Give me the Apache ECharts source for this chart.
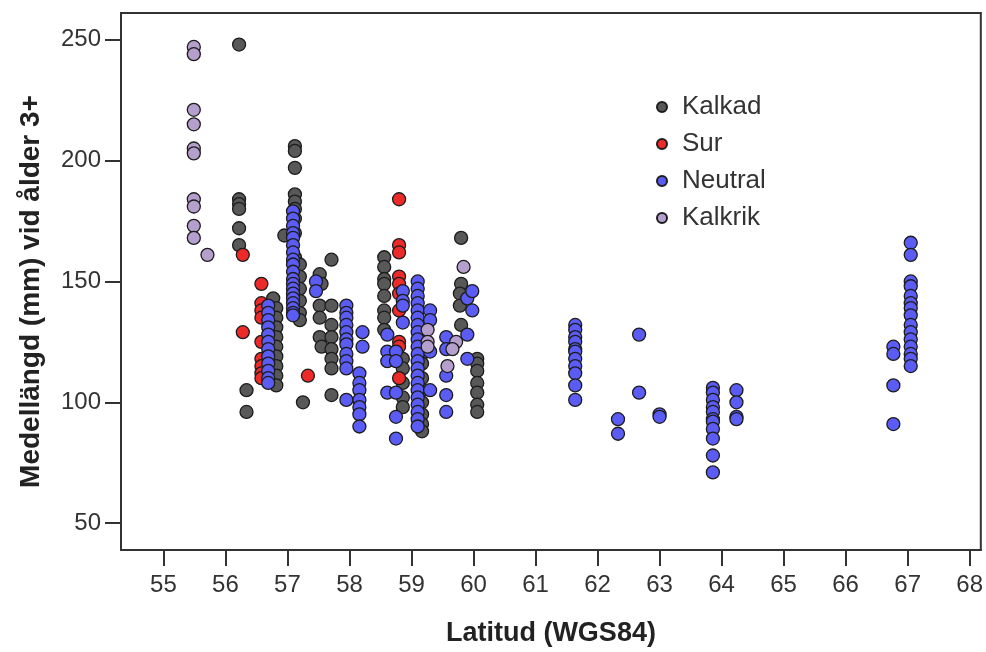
<!DOCTYPE html>
<html>
<head>
<meta charset="utf-8">
<script src="https://cdn.jsdelivr.net/npm/echarts@6.0.0/dist/echarts.min.js"></script>
<style>
    html, body { margin: 0; padding: 0; background: #fff; }
    #chart_div { width: 986px; height: 652px; }
</style>
</head>
<body>
<div id="chart_div"></div>
<script>
    // tick labels
    const latTicks = [55, 56, 57, 58, 59, 60, 61, 62, 63, 64, 65, 66, 67, 68];
    const lenTicks = [50, 100, 150, 200, 250];

    // [latitud, medellängd]
    const kalkad = [
        [56.22,248],[56.22,184],[56.22,182],[56.22,180],[56.22,172],[56.22,165],
        [56.34,105],[56.34,96],
        [56.77,143],[56.82,139],[56.82,135],[56.82,131],[56.82,127],[56.82,123],[56.82,119],[56.82,115],[56.82,111],[56.82,107],
        [56.95,169],
        [57.12,206],[57.12,204],[57.12,197],[57.12,186],[57.12,183],[57.12,180],[57.12,176],[57.12,170],[57.12,160],[57.12,150],[57.12,140],
        [57.2,157],[57.2,152],[57.2,147],[57.2,142],[57.2,137],[57.2,134],
        [57.25,100],[57.71,159],
        [57.52,153],[57.55,149],[57.52,140],[57.52,135],[57.52,127],[57.55,123],
        [57.71,140],[57.71,132],[57.71,127],[57.71,122],[57.71,118],[57.71,114],[57.71,103],
        [58.56,160],[58.56,156],[58.56,151],[58.56,149],[58.56,144],[58.56,138],[58.56,135],[58.56,130],
        [58.86,118],[58.86,114],[58.86,108],[58.86,102],[58.86,98],
        [59.17,130],[59.17,125],[59.17,120],[59.17,116],[59.17,110],[59.17,105],[59.17,100],[59.17,95],[59.17,91],[59.17,88],
        [59.8,168],[59.8,149],[59.78,145],[59.78,140],[59.8,132],
        [60.06,118],[60.06,116],[60.06,113],[60.06,108],[60.06,104],[60.06,99],[60.06,96]
    ];
    const sur = [
        [56.28,161],[56.28,129],
        [56.58,149],[56.58,141],[56.58,138],[56.58,135],[56.58,125],[56.58,118],[56.58,115],[56.58,112],[56.58,110],
        [57.33,111],
        [58.8,184],[58.8,165],[58.8,162],[58.8,152],[58.8,149],[58.8,145],[58.8,138],[58.8,125],[58.8,123],[58.8,110]
    ];
    const neutral = [
        [56.69,140],[56.69,137],[56.69,134],[56.69,131],[56.69,128],[56.69,125],[56.69,122],[56.69,119],[56.69,116],[56.69,113],[56.69,110],[56.69,108],
        [57.09,179],[57.09,176],[57.09,173],[57.09,170],[57.09,168],[57.09,165],[57.09,162],[57.09,159],[57.09,157],[57.09,154],
        [57.09,151],[57.09,149],[57.09,147],[57.09,145],[57.09,143],[57.09,141],[57.09,139],[57.09,137],[57.09,136],
        [57.46,150],[57.46,146],
        [57.95,140],[57.95,137],[57.95,135],[57.95,132],[57.95,129],[57.95,126],[57.95,124],[57.95,120],[57.95,117],[57.95,114],[57.95,101],
        [58.16,112],[58.16,108],[58.16,105],[58.16,101],[58.16,98],[58.16,95],[58.16,90],
        [58.21,129],[58.21,123],
        [58.61,128],[58.61,121],[58.61,117],[58.61,104],
        [58.75,121],[58.75,117],[58.75,104],[58.75,94],[58.75,85],
        [58.86,146],[58.86,142],[58.86,140],[58.86,133],
        [59.1,150],[59.1,147],[59.1,144],[59.1,141],[59.1,138],[59.1,135],[59.1,132],[59.1,129],[59.1,126],[59.1,123],[59.1,120],
        [59.1,117],[59.1,114],[59.1,111],[59.1,108],[59.1,105],[59.1,102],[59.1,99],[59.1,96],[59.1,93],[59.1,90],
        [59.3,138],[59.3,134],[59.3,121],[59.3,105],
        [59.56,127],[59.56,122],[59.56,111],[59.56,103],[59.56,96],
        [59.9,143],[59.9,128],[59.9,118],[59.98,146],[59.98,138],
        [61.64,132],[61.64,130],[61.64,127],[61.64,125],[61.64,122],[61.64,121],[61.64,118],[61.64,115],[61.64,112],[61.64,107],[61.64,101],
        [62.67,128],[62.67,104],[62.33,93],[62.33,87],[63.0,95],[63.0,94],
        [63.86,106],[63.86,104],[63.86,101],[63.86,98],[63.86,96],[63.86,93],[63.86,92],[63.86,89],[63.86,85],[63.86,78],[63.86,71],
        [64.24,105],[64.24,100],[64.24,94],[64.24,93],
        [66.77,123],[66.77,120],[66.77,107],[66.77,91],
        [67.05,166],[67.05,161],[67.05,150],[67.05,148],[67.05,144],[67.05,141],[67.05,139],[67.05,136],
        [67.05,132],[67.05,129],[67.05,126],[67.05,123],[67.05,120],[67.05,118],[67.05,115]
    ];
    const kalkrik = [
        [55.49,247],[55.49,244],[55.49,221],[55.49,215],[55.49,205],[55.49,203],[55.49,184],[55.49,181],[55.49,173],[55.49,168],
        [55.71,161],
        [59.26,130],[59.26,125],[59.26,123],[59.72,125],[59.66,122],[59.58,115],[59.84,156]
    ];

    const FONT = "'Liberation Sans', Arial, sans-serif";

    function dots(name, data, color){
        return {
            name: name,
            type: 'scatter',
            data: data,
            symbol: 'circle',
            symbolSize: 13,
            itemStyle: {
                color: color,
                borderColor: '#1c1c1c',
                borderWidth: 1.3,
                opacity: 1
            }
        };
    }

    let myChart = echarts.init(document.getElementById('chart_div'));
    myChart.setOption({
        animation: false,
        backgroundColor: '#fff',
        grid: {
            left: 121, top: 13, right: 3, bottom: 102,
            show: true,
            borderColor: '#333',
            borderWidth: 2
        },
        legend: {
            orient: 'vertical',
            left: 651,
            top: 87,
            itemWidth: 10,
            itemHeight: 10,
            itemGap: 7,
            icon: 'circle',
            textStyle: {
                fontFamily: FONT,
                fontSize: 26,
                lineHeight: 30,
                color: '#333',
                padding: [0, 0, 0, 10]
            },
            data: ['Kalkad', 'Sur', 'Neutral', 'Kalkrik']
        },
        xAxis: {
            type: 'value',
            min: 54.316,
            max: 68.18,
            name: 'Latitud (WGS84)',
            nameLocation: 'middle',
            nameGap: 70,
            nameTextStyle: { fontFamily: FONT, fontSize: 27, fontWeight: 'bold', color: '#222' },
            axisLine: { lineStyle: { color: '#333', width: 2 } },
            axisTick: { customValues: latTicks, length: 16, lineStyle: { color: '#333', width: 2 } },
            axisLabel: { customValues: latTicks, margin: 23, fontFamily: FONT, fontSize: 24, color: '#333' },
            splitLine: { show: false }
        },
        yAxis: {
            type: 'value',
            min: 38.9,
            max: 261.05,
            name: 'Medellängd (mm) vid ålder 3+',
            nameLocation: 'middle',
            nameGap: 76,
            nameTextStyle: { fontFamily: FONT, fontSize: 28, fontWeight: 'bold', color: '#222', padding: [0, 20, 0, 0] },
            axisLine: { show: true, lineStyle: { color: '#333', width: 2 } },
            axisTick: { show: true, customValues: lenTicks, length: 16, lineStyle: { color: '#333', width: 2 } },
            axisLabel: { customValues: lenTicks, margin: 20, fontFamily: FONT, fontSize: 24, color: '#333' },
            splitLine: { show: false }
        },
        series: [
            dots('Kalkad', kalkad, '#585858'),
            dots('Sur', sur, '#ec2a2a'),
            dots('Neutral', neutral, '#5a5cf4'),
            dots('Kalkrik', kalkrik, '#b59fcc')
        ]
    });
</script>
</body>
</html>
